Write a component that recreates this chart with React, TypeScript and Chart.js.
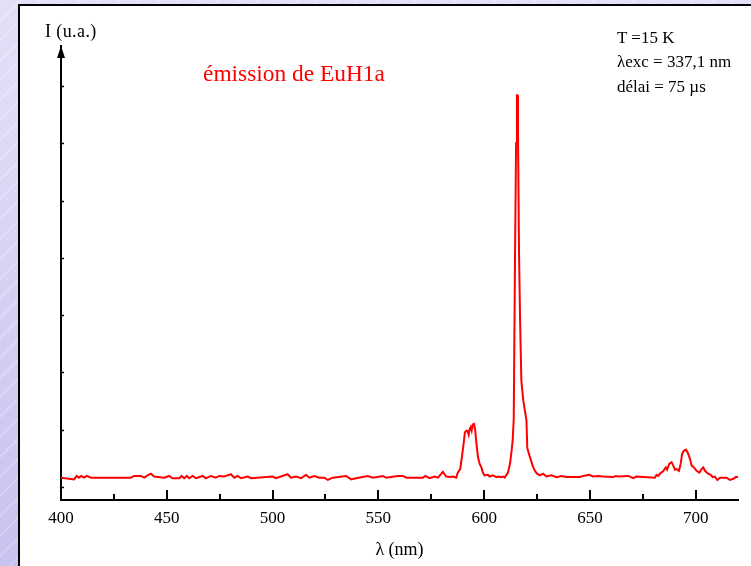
import React, { useEffect, useRef } from "react";
import { Chart, registerables } from "chart.js";

Chart.register(...registerables);

// Wavelength (nm) and emission intensity (a.u.)
const WAVELENGTH_NM: number[] = [
  400.0, 406.2, 407.4, 408.5, 409.6, 410.9, 412.2, 414.1, 433.0, 434.6,
  437.7, 439.3, 440.9, 442.5, 444.0, 448.8, 451.1, 452.7, 455.9, 457.0,
  458.2, 459.5, 460.6, 462.2, 463.8, 466.9, 468.5, 470.9, 473.2, 474.8,
  477.2, 478.7, 480.3, 481.9, 483.5, 485.1, 488.2, 489.8, 500.0, 501.6,
  507.1, 508.7, 511.1, 513.5, 515.8, 517.4, 519.8, 522.1, 524.5, 526.1,
  528.5, 534.8, 537.1, 539.5, 545.0, 547.4, 552.1, 553.7, 559.2, 561.6,
  563.2, 571.1, 572.2, 574.2, 576.6, 578.2, 580.5, 582.1, 583.7, 585.2,
  586.8, 587.6, 588.7, 589.5, 590.3, 590.9, 591.6, 592.2, 592.7, 593.1,
  593.6, 594.1, 594.6, 595.2, 595.7, 596.3, 597.1, 597.9, 598.7, 599.4,
  600.2, 601.8, 602.6, 604.2, 605.8, 606.5, 608.1, 608.9, 609.7, 611.3,
  612.3, 612.9, 613.5, 614.0, 614.6, 615.1, 615.5, 615.7, 616.0, 616.5,
  617.0, 617.6, 618.5, 620.0, 620.4, 621.0, 622.0, 623.0, 624.0, 625.0,
  626.3, 627.9, 629.4, 631.8, 634.2, 636.5, 638.9, 642.1, 645.2, 646.8,
  649.6, 651.5, 653.9, 656.3, 661.0, 662.3, 663.4, 668.1, 670.5, 672.0,
  680.7, 681.5, 682.3, 683.4, 684.6, 685.9, 686.5, 687.5, 688.6, 689.4,
  690.2, 691.0, 692.1, 692.9, 693.6, 694.4, 695.4, 696.2, 697.3, 698.1,
  699.2, 700.4, 701.7, 702.8, 703.6, 704.4, 705.9, 707.1, 708.0, 709.1,
  710.2, 711.5, 714.6, 716.2, 717.8, 718.9, 720.0,
];

const INTENSITY: number[] = [
  0.16, 0.13, 0.19, 0.16, 0.19, 0.16, 0.19, 0.16, 0.16, 0.19,
  0.19, 0.16, 0.20, 0.23, 0.18, 0.16, 0.19, 0.15, 0.15, 0.19,
  0.15, 0.19, 0.15, 0.19, 0.15, 0.19, 0.15, 0.19, 0.16, 0.19,
  0.18, 0.20, 0.22, 0.16, 0.19, 0.15, 0.18, 0.15, 0.18, 0.15,
  0.22, 0.16, 0.18, 0.15, 0.21, 0.16, 0.19, 0.16, 0.16, 0.12,
  0.16, 0.19, 0.13, 0.15, 0.19, 0.16, 0.19, 0.16, 0.19, 0.19,
  0.16, 0.16, 0.19, 0.15, 0.18, 0.16, 0.26, 0.18, 0.17, 0.18,
  0.16, 0.25, 0.31, 0.52, 0.75, 0.95, 0.98, 0.97, 0.91, 1.00,
  1.04, 0.98, 1.09, 1.10, 1.01, 0.78, 0.52, 0.40, 0.34, 0.25,
  0.20, 0.21, 0.18, 0.20, 0.17, 0.18, 0.17, 0.18, 0.16, 0.25,
  0.42, 0.60, 0.81, 1.19, 4.0, 6.0, 6.84, 6.84, 6.23, 4.09,
  2.90, 1.85, 1.51, 1.16, 0.68, 0.60, 0.48, 0.36, 0.28, 0.23,
  0.20, 0.23, 0.18, 0.20, 0.17, 0.19, 0.17, 0.17, 0.17, 0.19,
  0.21, 0.18, 0.19, 0.18, 0.17, 0.19, 0.18, 0.19, 0.15, 0.18,
  0.16, 0.21, 0.19, 0.24, 0.27, 0.34, 0.30, 0.40, 0.43, 0.37,
  0.30, 0.31, 0.28, 0.40, 0.58, 0.63, 0.65, 0.60, 0.49, 0.37,
  0.34, 0.28, 0.25, 0.31, 0.34, 0.28, 0.23, 0.21, 0.17, 0.18,
  0.12, 0.16, 0.16, 0.12, 0.14, 0.17, 0.17,
];

const X_MIN = 400;
const X_MAX = 720;
const X_STEP = 25; // minor tick every 25 nm, labelled every 50 nm
const Y_MIN = -0.23;
const Y_MAX = 7.7;
const Y_TICKS: number[] = [0, 1, 2, 3, 4, 5, 6, 7];

const ANNOTATIONS: string[] = ["T =15 K", "\u03bbexc = 337,1 nm", "d\u00e9lai = 75 \u00b5s"];
const SERIES_TITLE = "\u00e9mission de EuH1a";
const Y_TITLE = "I (u.a.)";
const X_TITLE = "\u03bb (nm)";

const FONT = "'Liberation Serif', 'Times New Roman', serif";

const axisDecor = {
  id: "axisDecor",
  afterDraw(chart: any) {
    const { ctx, chartArea, scales } = chart;
    const xs = scales.x;
    const ys = scales.y;
    ctx.save();
    ctx.strokeStyle = "#000";
    ctx.fillStyle = "#000";
    // x tick marks pointing into the plot
    ctx.lineWidth = 2;
    xs.ticks.forEach((t: any) => {
      const px = Math.round(xs.getPixelForValue(t.value));
      const len = t.value % 50 === 0 ? 10 : 6;
      ctx.beginPath();
      ctx.moveTo(px, chartArea.bottom);
      ctx.lineTo(px, chartArea.bottom - len);
      ctx.stroke();
    });
    // tiny y tick marks
    ctx.lineWidth = 1.5;
    const ax = chartArea.left;
    ys.ticks.forEach((t: any) => {
      const py = Math.round(ys.getPixelForValue(t.value)) + 0.5;
      ctx.beginPath();
      ctx.moveTo(ax - 1, py);
      ctx.lineTo(ax + 3, py);
      ctx.stroke();
    });
    // arrow head on the y axis
    const top = chartArea.top;
    ctx.beginPath();
    ctx.moveTo(ax, top);
    ctx.lineTo(ax - 4, top + 12);
    ctx.lineTo(ax + 4, top + 12);
    ctx.closePath();
    ctx.fill();
    ctx.restore();
  },
};

export default function App() {
  const canvasRef = useRef<HTMLCanvasElement | null>(null);

  useEffect(() => {
    const canvas = canvasRef.current;
    if (!canvas) return;
    const chart = new Chart(canvas, {
      type: "line",
      data: {
        datasets: [
          {
            data: WAVELENGTH_NM.map((x, i) => ({ x, y: INTENSITY[i] })),
            borderColor: "#ff0000",
            borderWidth: 2,
            pointRadius: 0,
            tension: 0,
            fill: false,
          },
        ],
      },
      options: {
        animation: false,
        responsive: false,
        devicePixelRatio: 1,
        layout: { padding: { left: 61, right: 13, top: 46, bottom: 0 } },
        plugins: { legend: { display: false }, tooltip: { enabled: false } },
        scales: {
          x: {
            type: "linear",
            min: X_MIN,
            max: X_MAX,
            grid: { display: false, drawTicks: false },
            border: { display: true, color: "#000", width: 2 },
            ticks: {
              stepSize: X_STEP,
              includeBounds: false,
              autoSkip: false,
              maxRotation: 0,
              padding: 8,
              color: "#000",
              font: { family: FONT, size: 17 },
              callback: (v: any) => (Number(v) % 50 === 0 ? String(v) : ""),
            },
            title: {
              display: true,
              text: X_TITLE,
              color: "#000",
              font: { family: FONT, size: 18 },
              padding: { top: 3, bottom: 5 },
            },
          },
          y: {
            type: "linear",
            min: Y_MIN,
            max: Y_MAX,
            afterBuildTicks: (scale: any) => {
              scale.ticks = Y_TICKS.map((v) => ({ value: v }));
            },
            grid: { display: false, drawTicks: false },
            border: { display: true, color: "#000", width: 2 },
            ticks: { display: false },
          },
        },
      },
      plugins: [axisDecor],
    } as any);
    return () => chart.destroy();
  }, []);

  const textBase: React.CSSProperties = {
    position: "absolute",
    fontFamily: FONT,
    color: "#000",
    whiteSpace: "nowrap",
    margin: 0,
  };

  return (
    <div
      style={{
        position: "fixed",
        left: 0,
        top: 0,
        width: 751,
        height: 566,
        overflow: "hidden",
        background:
          "repeating-linear-gradient(135deg, rgba(255,255,255,0.22) 0px, rgba(255,255,255,0.22) 2px, rgba(255,255,255,0) 2px, rgba(255,255,255,0) 14px), linear-gradient(180deg, #e3e1f8 0%, #c8c2ef 100%)",
      }}
    >
      <div
        style={{
          position: "absolute",
          left: 18,
          top: 4,
          width: 760,
          height: 580,
          background: "#fff",
          borderLeft: "2px solid #000",
          borderTop: "2px solid #000",
          boxSizing: "border-box",
        }}
      />
      <canvas
        ref={canvasRef}
        width={751}
        height={566}
        style={{ position: "absolute", left: 0, top: 0, width: 751, height: 566 }}
      />
      <div style={{ ...textBase, left: 45, top: 22, fontSize: 18, lineHeight: "18px", letterSpacing: "0.4px" }}>
        {Y_TITLE}
      </div>
      <div style={{ ...textBase, left: 203, top: 62, fontSize: 23.4, lineHeight: "23.4px", color: "#ff0000" }}>
        {SERIES_TITLE}
      </div>
      <div style={{ ...textBase, left: 617, top: 25.5, fontSize: 17, lineHeight: "24.5px" }}>
        {ANNOTATIONS.map((s) => (
          <div key={s}>{s}</div>
        ))}
      </div>
    </div>
  );
}
